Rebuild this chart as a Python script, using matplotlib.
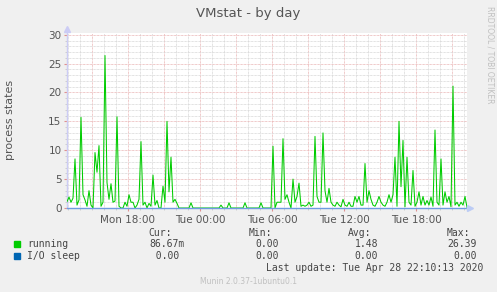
import matplotlib.pyplot as plt
from matplotlib.ticker import MultipleLocator
import numpy as np

# samples every 10 minutes, first one at Mon 12:55 (hours relative to Tue 00:00)
start_hour = -11 - 5 / 60
step_hours = 10 / 60

running = [
    1.1, 1.9, 1.0, 1.7, 8.5, 0.5, 1.4, 15.7, 2.3, 1.4,
    0.3, 3.0, 0.5, 0.0, 9.6, 6.2, 10.8, 0.3, 1.0, 26.4,
    4.4, 1.5, 4.2, 1.0, 1.2, 15.8, 0.3, 0.0, 0.0, 1.0,
    0.3, 2.3, 1.0, 1.0, 0.0, 0.5, 1.5, 11.5, 0.5, 1.0,
    0.0, 0.8, 0.3, 5.7, 0.5, 1.3, 0.0, 0.0, 3.8, 1.0,
    15.0, 2.8, 8.8, 1.0, 1.5, 0.8, 0.0, 0.0, 0.0, 0.0,
    0.0, 0.0, 0.9, 0.0, 0.0, 0.0, 0.0, 0.0, 0.0, 0.0,
    0.0, 0.0, 0.0, 0.0, 0.0, 0.0, 0.0, 0.5, 0.0, 0.0,
    0.0, 0.9, 0.0, 0.0, 0.0, 0.0, 0.0, 0.0, 0.0, 0.9,
    0.0, 0.0, 0.0, 0.0, 0.0, 0.0, 0.0, 0.9, 0.0, 0.0,
    0.0, 0.0, 0.0, 10.7, 0.0, 1.0, 1.0, 1.0, 12.0, 1.5,
    2.3, 1.0, 0.0, 5.0, 1.0, 2.0, 4.3, 0.3, 0.5, 0.3,
    0.5, 1.0, 0.3, 0.5, 12.4, 2.0, 1.0, 1.0, 13.0, 3.0,
    1.0, 3.4, 1.0, 0.5, 0.3, 1.0, 0.5, 0.2, 1.5, 0.5,
    0.3, 1.0, 0.3, 0.3, 2.0, 1.0, 2.0, 0.5, 0.5, 7.7,
    1.0, 3.0, 1.5, 0.5, 0.3, 1.0, 2.0, 1.0, 0.5, 0.3,
    1.0, 2.3, 1.0, 2.3, 8.8, 0.3, 15.0, 3.7, 11.7, 0.2,
    8.8, 1.0, 0.5, 6.5, 0.3, 1.0, 2.8, 0.5, 2.0, 0.5,
    1.3, 0.5, 1.9, 0.3, 13.5, 1.0, 0.5, 8.5, 0.5, 2.8,
    1.0, 2.0, 0.2, 21.1, 0.5, 1.0, 0.3, 1.0, 0.5, 2.0,
    0.1,
]
io_sleep = [0.0] * len(running)

x_ticks = [-6, 0, 6, 12, 18]
x_labels = ["Mon 18:00", "Tue 00:00", "Tue 06:00", "Tue 12:00", "Tue 18:00"]

series_names = ["running", "I/O sleep"]
series_colors = ["#00cc00", "#0066b3"]
cur_vals = ["86.67m", "  0.00 "]
min_vals = ["0.00", "0.00"]
avg_vals = ["1.48", "0.00"]
max_vals = ["26.39", "0.00"]

W, H = 497, 292
fig = plt.figure(figsize=(W / 100, H / 100), dpi=100, facecolor="#f0f0f0")
ax = fig.add_axes([67 / W, (H - 208) / H, 400 / W, 175 / H])
ax.set_facecolor("white")

t = start_hour + step_hours * np.arange(len(running))
x_end = start_hour + 400 * 5 / 60

# grid
dots = (0, (0.72, 0.72))
for h in np.arange(-11, 23):
    col = "#eab4b4" if h % 3 == 0 else "#d6d6d6"
    ax.axvline(h, color=col, lw=0.7, ls=dots, zorder=0)
for v in range(1, 31):
    col = "#eab4b4" if v % 5 == 0 else "#d6d6d6"
    ax.axhline(v, color=col, lw=0.7, ls=dots, zorder=0)

ax.plot(t, running, color=series_colors[0], lw=0.75, zorder=3)
ax.plot(t, io_sleep, color="#6f9be0", lw=1.0, zorder=4, clip_on=False)

ax.set_xlim(start_hour, x_end)
ax.set_ylim(0, 30.3)
for s in ["top", "right", "bottom"]:
    ax.spines[s].set_visible(False)
ax.spines["left"].set_color("#ccccf5")
ax.spines["left"].set_linewidth(1.0)

# axis arrows
ax.plot([start_hour], [31.0], marker="^", ms=4, color="#ccccf5", clip_on=False, zorder=5)
ax.plot([x_end + 0.25], [0], marker=">", ms=4, color="#bcccf5", clip_on=False, zorder=5)

ax.set_xticks(x_ticks)
ax.set_xticklabels(x_labels)
ax.xaxis.set_minor_locator(MultipleLocator(1))
ax.set_yticks(range(0, 31, 5))
ax.yaxis.set_minor_locator(MultipleLocator(1))
ax.tick_params(axis="both", which="major", length=2, color="#e09090",
               labelsize=7.5, labelcolor="#555555", pad=2)
ax.tick_params(axis="both", which="minor", length=1.5, color="#c8c8c8")
ax.tick_params(axis="x", which="major", pad=3)

fig.text(248 / W, 1 - 13 / H, "VMstat - by day", ha="center", va="center",
         fontsize=9.5, color="#555555")
fig.text(10 / W, 1 - 120 / H, "process states", ha="center", va="center",
         rotation=90, fontsize=8, color="#555555")
fig.text(490 / W, 1 - 55 / H, "RRDTOOL / TOBI OETIKER", ha="center", va="center",
         rotation=-90, fontsize=5.5, color="#c0c0c0")

mono = dict(family="DejaVu Sans Mono", fontsize=7, color="#444444", va="center")
for label, xr in zip(["Cur:", "Min:", "Avg:", "Max:"], [172, 272, 371, 470]):
    fig.text(xr / W, 1 - 233 / H, label, ha="right", **mono)

rows_y = [244, 256]
for k in range(2):
    y = 1 - rows_y[k] / H
    fig.patches.append(plt.Rectangle((14 / W, y - 3 / H), 6 / W, 6 / H,
                                     transform=fig.transFigure,
                                     color=series_colors[k]))
    fig.text(27 / W, y, series_names[k], ha="left", **mono)
    fig.text(185 / W, y, cur_vals[k], ha="right", **mono)
    fig.text(279 / W, y, min_vals[k], ha="right", **mono)
    fig.text(378 / W, y, avg_vals[k], ha="right", **mono)
    fig.text(477 / W, y, max_vals[k], ha="right", **mono)

fig.text(483 / W, 1 - 268 / H, "Last update: Tue Apr 28 22:10:13 2020",
         ha="right", **mono)
fig.text(248 / W, 1 - 281 / H, "Munin 2.0.37-1ubuntu0.1", ha="center",
         va="center", fontsize=5.5, color="#c0c0c0")

fig.savefig("out.png", dpi=100, facecolor=fig.get_facecolor())
